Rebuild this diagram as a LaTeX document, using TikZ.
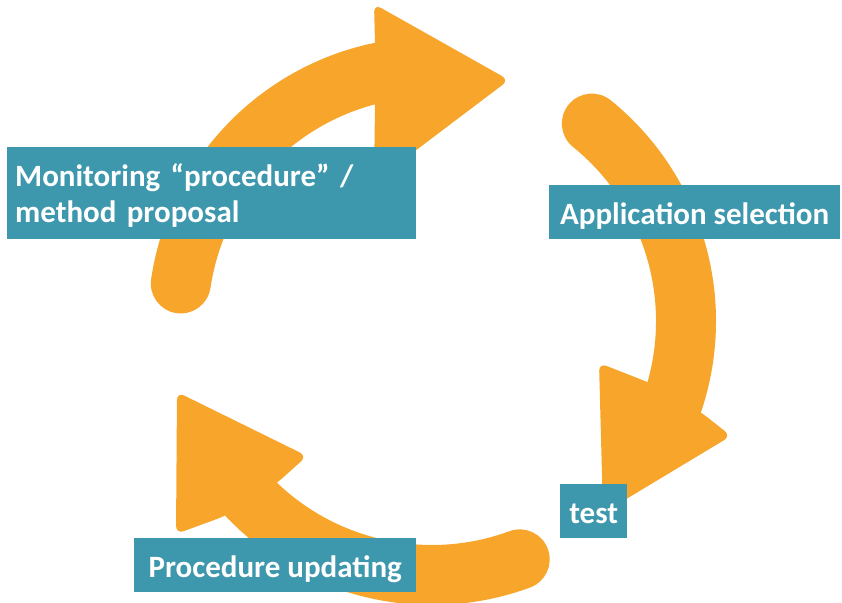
\documentclass[tikz,border=0pt]{standalone}
\usepackage{fontspec}
\setmainfont{Carlito}
\usepackage{tikz}
\definecolor{cycorange}{RGB}{247,166,43}
\definecolor{cycteal}{RGB}{61,151,173}
\tikzset{
  shaft/.style={draw=cycorange,line width=60pt,line cap=round},
  head/.style={fill=cycorange,rounded corners=8pt},
  lbl/.style={fill=cycteal,text=white,font=\bfseries\fontsize{31}{35.5}\selectfont,anchor=north west,inner xsep=0pt,inner ysep=0pt,text height=39pt,text depth=15pt},
}

\begin{document}
\begin{tikzpicture}[x=1pt,y=1pt]
  \useasboundingbox (0,0) rectangle (842,602);
  \coordinate (c) at (432,281);
  \foreach \ta/\te in {171.5/98,51/-24,-69.8/-142}
    {\draw[shaft] ([shift={(\ta:254)}]c) arc[start angle=\ta,end angle=\te,radius=254];}
  \fill[head] (374,598) -- (509,522) -- (374,420) -- (375,497) -- (375,559) -- cycle;
  \fill[head] (599,239) -- (650,219) -- (702,189) -- (731,166) -- (603,89) -- cycle;
  \fill[head] (177,210) -- (307,146) -- (277,119) -- (225,86) -- (176,68) -- cycle;
  \node[lbl,text width=393pt,inner xsep=8pt,align=left,text height=39.5pt,text depth=52.5pt] (monitor) at (7,455) {Monitoring “procedure” /\\ method proposal};
  \node[lbl,minimum width=291pt] (select) at (549,417) {Application selection};
  \node[lbl,minimum width=67pt] (test) at (560,118) {test};
  \node[lbl,minimum width=282pt] (update) at (134,64) {Procedure updating};
\end{tikzpicture}
\end{document}
